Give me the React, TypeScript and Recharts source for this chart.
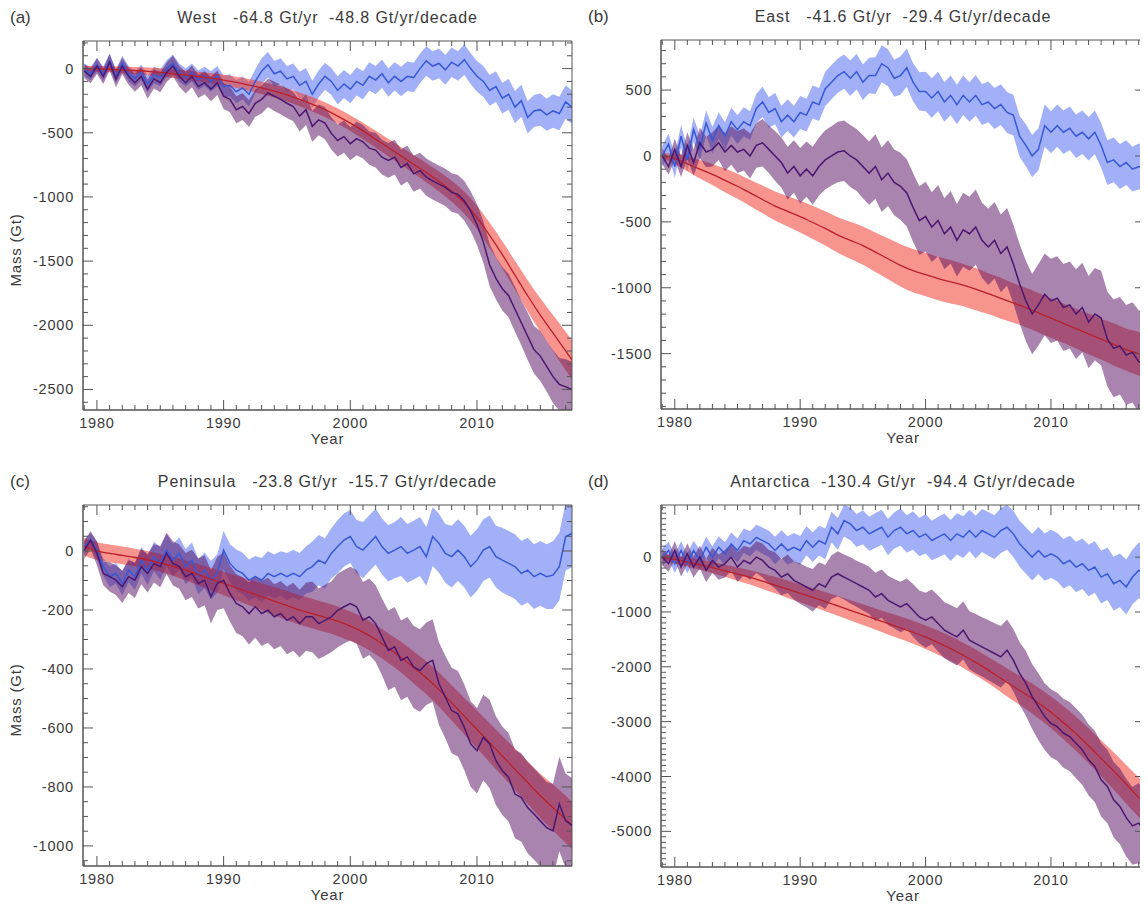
import { ComposedChart, Line, Area, XAxis, YAxis, ReferenceArea } from 'recharts'

// half-year sample times 1979.0 .. 2018.0 (the last point only runs past the frame edge)
const START = 1979
const halfYears: number[] = []
for (let i = 0; i <= 78; i++) halfYears.push(START + i / 2)

const yearTicks: number[] = []
for (let y = 1979; y <= 2017; y++) yearTicks.push(y)
const yearLabels = [1980, 1990, 2000, 2010]

// ---- (a) West ----
const westBlue = [
  -10, -40, 30, -40, 60, -60, 40, -40, -80, -30, -120, -50, -70, 0, 40, -30, -70, -30, -90, -60,
  -100, -60, -140, -130, -180, -150, -200, -100, -20, 30, -40, -20, -80, -60, -130, -100, -200, -120, -60, -100,
  -170, -120, -160, -100, -130, -60, -90, -40, -110, -60, -100, -60, -70, 0, 60, 20, 40, -10, 50, 20,
  70, 0, -60, -100, -170, -140, -230, -200, -300, -250, -380, -330, -320, -360, -330, -350, -260, -300, -320,
]
const westPurple = [
  -20, -60, 20, -60, 50, -80, 20, -60, -110, -60, -160, -80, -110, -30, 20, -60, -110, -60, -140, -110,
  -160, -110, -215, -240, -320, -295, -350, -270, -240, -190, -215, -240, -270, -295, -370, -320, -450, -400, -425, -505,
  -560, -530, -585, -545, -570, -620, -635, -690, -715, -690, -770, -740, -820, -795, -845, -875, -900, -925, -965, -980,
  -1030, -1110, -1215, -1350, -1530, -1635, -1715, -1770, -1875, -1980, -2085, -2190, -2240, -2320, -2400, -2460, -2480, -2500, -2530,
]
const westRed = [
  0, -2, -5, -10, -15, -22, -30, -40, -50, -62, -75, -90, -108, -128, -150, -175, -205, -240, -278, -320,
  -370, -425, -485, -550, -615, -680, -745, -810, -880, -955, -1045, -1160, -1300, -1450, -1610, -1770, -1920, -2060, -2200, -2340,
]
const westBlueErr = [
  50, 55, 55, 60, 60, 65, 65, 70, 70, 75, 80, 85, 90, 95, 100, 100, 100, 105, 105, 105,
  110, 110, 110, 110, 110, 115, 115, 115, 115, 115, 120, 120, 120, 120, 125, 125, 125, 130, 130, 130,
]
const westPurpleErr = [
  55, 60, 65, 65, 70, 75, 75, 80, 85, 90, 95, 100, 105, 105, 110, 115, 115, 120, 120, 125,
  125, 130, 130, 135, 135, 140, 140, 145, 145, 150, 155, 160, 165, 170, 175, 185, 195, 205, 215, 220,
]
const westRedErr = [
  20, 22, 24, 26, 28, 30, 32, 34, 36, 38, 40, 42, 44, 46, 48, 50, 52, 54, 56, 58,
  60, 62, 64, 66, 68, 70, 72, 75, 78, 82, 86, 92, 98, 105, 112, 120, 130, 140, 150, 155,
]

// ---- (b) East ----
const eastBlue = [
  0, 90, -80, 150, -30, 200, 60, 250, 120, 230, 150, 260, 200, 260, 230, 360, 410, 330, 360, 260,
  310, 260, 330, 310, 410, 390, 510, 560, 610, 640, 590, 640, 560, 610, 610, 700, 670, 590, 610, 670,
  560, 490, 490, 440, 490, 410, 460, 390, 460, 410, 460, 390, 410, 360, 390, 330, 310, 150, 80, 0,
  50, 230, 180, 230, 180, 210, 150, 180, 130, 180, 80, -50, -30, -80, -50, -100, -80, -100, -120,
]
const eastPurple = [
  0, -80, 50, -80, 80, -50, 100, 30, 50, 100, 30, 80, 30, 50, 0, 80, 100, 50, 0, -50,
  -130, -80, -150, -100, -150, -80, -30, 0, 30, 40, 0, -30, -80, -130, -80, -180, -130, -200, -230, -280,
  -390, -490, -460, -540, -490, -590, -540, -640, -560, -590, -540, -640, -690, -640, -740, -690, -820, -970, -1100, -1200,
  -1130, -1050, -1100, -1080, -1150, -1130, -1200, -1150, -1260, -1200, -1230, -1390, -1460, -1440, -1510, -1490, -1560, -1580, -1600,
]
const eastRed = [
  0, -20, -60, -100, -140, -185, -230, -280, -330, -380, -420, -460, -505, -550, -600, -640, -680, -730, -780, -830,
  -870, -900, -930, -955, -980, -1010, -1045, -1080, -1115, -1150, -1190, -1230, -1270, -1310, -1350, -1390, -1430, -1470, -1500, -1530,
]
const eastBlueErr = [
  80, 85, 90, 95, 100, 105, 110, 110, 115, 120, 120, 125, 125, 130, 130, 135, 135, 140, 140, 145,
  145, 150, 150, 150, 150, 155, 155, 155, 155, 160, 160, 160, 165, 165, 165, 170, 170, 170, 175, 175,
]
const eastPurpleErr = [
  60, 80, 100, 115, 130, 145, 160, 170, 180, 190, 200, 210, 220, 225, 230, 235, 240, 245, 250, 255,
  260, 265, 270, 275, 280, 285, 290, 295, 300, 305, 310, 320, 330, 340, 350, 360, 370, 380, 390, 390,
]
const eastRedErr = [
  20, 40, 55, 70, 80, 90, 95, 100, 105, 110, 115, 120, 125, 130, 135, 140, 145, 150, 155, 160,
  165, 165, 165, 165, 160, 160, 155, 155, 150, 150, 150, 150, 150, 150, 155, 155, 160, 160, 165, 165,
]

// ---- (c) Peninsula ----
const peninsulaBlue = [
  15, 37, 3, -53, -87, -76, -110, -65, -87, -31, -65, -19, -42, 3, -31, -8, -53, -31, -87, -65,
  -99, -76, 3, -42, -65, -76, -99, -87, -99, -76, -87, -76, -87, -76, -87, -65, -53, -31, -42, -8,
  15, 37, 49, 15, 3, 26, 49, 15, -8, 3, 15, -8, 3, 15, -19, 49, 26, -8, -19, 3,
  -19, -53, -31, 3, 15, -19, -31, -42, -53, -76, -65, -87, -76, -87, -82, -53, 49, 60, 40,
]
const peninsulaPurple = [
  3, 37, -8, -76, -87, -99, -121, -87, -99, -53, -76, -42, -53, -8, -42, -53, -87, -76, -110, -99,
  -155, -110, -99, -144, -178, -189, -212, -189, -212, -201, -223, -212, -235, -223, -246, -223, -223, -246, -235, -223,
  -201, -189, -178, -189, -235, -223, -246, -291, -337, -325, -371, -359, -393, -405, -382, -371, -450, -495, -541, -552,
  -598, -654, -677, -632, -654, -711, -745, -768, -824, -836, -870, -892, -915, -938, -949, -858, -915, -930, -950,
]
const peninsulaRed = [
  15, 0, -8, -15, -22, -30, -40, -52, -65, -80, -95, -110, -125, -140, -155, -170, -185, -200, -212, -225,
  -238, -255, -275, -300, -330, -360, -395, -430, -470, -515, -560, -605, -650, -695, -740, -785, -830, -870, -910, -950,
]
const peninsulaBlueErr = [
  25, 30, 35, 40, 45, 50, 55, 55, 60, 60, 65, 65, 70, 70, 75, 75, 80, 80, 85, 85,
  90, 90, 95, 95, 95, 100, 100, 100, 100, 105, 105, 105, 105, 110, 110, 110, 110, 115, 115, 115,
]
const peninsulaPurpleErr = [
  30, 40, 50, 55, 60, 65, 70, 75, 80, 85, 90, 95, 100, 105, 110, 110, 115, 115, 120, 120,
  125, 125, 130, 130, 135, 135, 140, 140, 140, 145, 145, 145, 150, 150, 150, 155, 155, 160, 160, 160,
]
const peninsulaRedErr = [
  30, 30, 30, 30, 30, 30, 30, 32, 34, 36, 38, 40, 42, 44, 46, 48, 50, 50, 50, 50,
  50, 50, 50, 50, 50, 52, 54, 56, 58, 60, 62, 64, 66, 68, 70, 72, 75, 78, 80, 80,
]

// ---- (d) Antarctica ----
const antarcticaBlue = [
  0, 120, -120, 120, -120, 120, -60, 180, 0, 180, 60, 240, 120, 300, 240, 360, 300, 240, 120, 240,
  120, 180, 120, 300, 180, 300, 240, 545, 424, 666, 606, 485, 545, 424, 485, 545, 364, 485, 545, 424,
  485, 364, 424, 303, 364, 424, 303, 424, 364, 485, 364, 485, 424, 364, 485, 545, 424, 242, 121, 0,
  121, 0, 61, 0, -121, -61, -182, -121, -242, -182, -364, -303, -485, -424, -545, -364, -242, -300, -350,
]
const antarcticaPurple = [
  0, -121, 121, -182, 61, -182, 0, -242, -61, -182, -121, 0, -182, -61, -121, 0, -61, -182, -242, -364,
  -303, -424, -485, -545, -606, -485, -545, -364, -303, -364, -424, -485, -545, -606, -727, -666, -788, -848, -909, -848,
  -970, -1091, -1151, -1091, -1212, -1333, -1394, -1454, -1333, -1515, -1576, -1636, -1697, -1757, -1818, -1697, -1879, -2121, -2303, -2545,
  -2727, -2909, -3030, -3091, -3212, -3273, -3394, -3515, -3697, -3818, -4060, -4181, -4424, -4545, -4750, -4900, -4850, -5000, -5100,
]
const antarcticaRed = [
  0, -40, -90, -140, -190, -250, -310, -370, -440, -510, -585, -660, -735, -810, -890, -970, -1050, -1130, -1210, -1290,
  -1370, -1460, -1560, -1670, -1790, -1920, -2060, -2210, -2360, -2500, -2660, -2830, -3020, -3220, -3440, -3670, -3900, -4140, -4380, -4620,
]
const antarcticaBlueErr = [
  160, 170, 180, 190, 200, 210, 220, 230, 240, 250, 260, 265, 270, 280, 290, 300, 310, 320, 330, 340,
  350, 360, 370, 375, 380, 390, 400, 410, 420, 425, 430, 440, 450, 460, 470, 480, 490, 500, 510, 510,
]
const antarcticaPurpleErr = [
  150, 170, 190, 210, 230, 250, 270, 290, 310, 330, 350, 370, 390, 400, 410, 420, 430, 440, 450, 460,
  480, 500, 510, 520, 530, 540, 550, 560, 570, 590, 610, 620, 630, 640, 650, 670, 690, 710, 730, 730,
]
const antarcticaRedErr = [
  60, 70, 80, 90, 100, 110, 120, 130, 140, 150, 160, 165, 170, 175, 180, 185, 190, 195, 200, 205,
  210, 215, 220, 225, 230, 235, 240, 250, 260, 270, 280, 290, 300, 310, 320, 330, 340, 350, 360, 360,
]

const FONT = "'Liberation Sans', Arial, Helvetica, sans-serif"
const INK = '#3a3a3a'
const AXIS = '#555'

function range(a: number, b: number, step: number) {
  const out: number[] = []
  for (let v = a; v <= b + 1e-9; v += step) out.push(v)
  return out
}

type PanelProps = {
  tag: string
  title: string
  left: number
  top: number
  w: number
  h: number
  domain: [number, number]
  majors: number[]
  minorStep: number
  yLabelCenter?: number
  blue: number[]
  blueErr: number[]
  purple: number[]
  purpleErr: number[]
  red: number[]
  redErr: number[]
}

function buildRows(p: PanelProps) {
  return halfYears.map((t, i) => {
    const k = Math.floor(t - START)
    const whole = Number.isInteger(t)
    return {
      t,
      blue: p.blue[i],
      blueBand: [p.blue[i] - p.blueErr[k], p.blue[i] + p.blueErr[k]],
      purple: p.purple[i],
      purpleBand: [p.purple[i] - p.purpleErr[k], p.purple[i] + p.purpleErr[k]],
      red: whole ? p.red[k] : null,
      redBand: whole ? [p.red[k] - p.redErr[k], p.red[k] + p.redErr[k]] : null,
    }
  })
}

const YW = 70
const MT = 6
const XH = 40
const X_DOMAIN: [number, number] = [1978.9, 2017.5]

function Panel(p: PanelProps) {
  const rows = buildRows(p)
  const yTicks = range(Math.ceil(p.domain[0] / p.minorStep) * p.minorStep, p.domain[1], p.minorStep)
  const isMajorY = (v: number) => p.majors.includes(v)
  const chartLeft = p.left - 8 - YW
  const chartTop = p.top - 8 - MT

  // bottom ticks also draw the matching tick on the top edge of the frame
  const bottomTick = (t: any) => {
    const v = t.payload.value
    const major = yearLabels.includes(v)
    const len = major ? 10 : 5
    return (
      <g>
        <line x1={t.x} x2={t.x} y1={t.y} y2={t.y - len} stroke={AXIS} />
        <line x1={t.x} x2={t.x} y1={t.y - p.h} y2={t.y - p.h + len} stroke={AXIS} />
        {major && (
          <text x={t.x} y={t.y + 18} textAnchor="middle" fontSize={14.5} letterSpacing={0.8} fill={INK} fontFamily={FONT}>
            {v}
          </text>
        )}
      </g>
    )
  }
  // left ticks also draw the matching tick on the right edge
  const leftTick = (t: any) => {
    const v = t.payload.value
    const major = isMajorY(v)
    const len = major ? 10 : 5
    return (
      <g>
        <line x1={t.x} x2={t.x + len} y1={t.y} y2={t.y} stroke={AXIS} />
        <line x1={t.x + p.w} x2={t.x + p.w - len} y1={t.y} y2={t.y} stroke={AXIS} />
        {major && (
          <text x={t.x - 9} y={t.y + 5} textAnchor="end" fontSize={14.5} letterSpacing={0.8} fill={INK} fontFamily={FONT}>
            {v}
          </text>
        )}
      </g>
    )
  }

  return (
    <>
      <div style={{ position: 'absolute', left: p.left - 8 - 78 + 5, top: p.top - 8 - 33, fontSize: 17, color: INK, fontFamily: FONT }}>
        {p.tag}
      </div>
      <div
        style={{
          position: 'absolute',
          left: p.left - 8,
          width: p.w,
          top: p.top - 8 - 32,
          textAlign: 'center',
          fontSize: 16,
          letterSpacing: 0.9,
          whiteSpace: 'pre',
          color: INK,
          fontFamily: FONT,
        }}
      >
        {p.title}
      </div>
      <div
        style={{
          position: 'absolute',
          left: p.left - 8,
          width: p.w,
          top: p.top - 8 + p.h + 20,
          textAlign: 'center',
          fontSize: 15,
          letterSpacing: 0.8,
          lineHeight: '17px',
          color: INK,
          fontFamily: FONT,
        }}
      >
        Year
      </div>
      {p.yLabelCenter !== undefined && (
        <div
          style={{
            position: 'absolute',
            left: 16 - 8 - 50,
            width: 100,
            top: p.yLabelCenter - 8 - 9,
            textAlign: 'center',
            fontSize: 15,
            letterSpacing: 0.8,
            lineHeight: '18px',
            transform: 'rotate(-90deg)',
            color: INK,
            fontFamily: FONT,
          }}
        >
          Mass (Gt)
        </div>
      )}
      <div style={{ position: 'absolute', left: chartLeft, top: chartTop }}>
        <ComposedChart width={YW + p.w + 2} height={MT + p.h + XH} data={rows} margin={{ top: MT, right: 2, bottom: 0, left: 0 }}>
          <XAxis
            dataKey="t"
            type="number"
            domain={X_DOMAIN}
            allowDataOverflow
            ticks={yearTicks}
            interval={0}
            tick={bottomTick}
            tickLine={false}
            tickSize={0}
            tickMargin={0}
            height={XH}
            axisLine={{ stroke: AXIS }}
          />
          <YAxis
            type="number"
            domain={p.domain}
            allowDataOverflow
            ticks={yTicks}
            interval={0}
            tick={leftTick}
            tickLine={false}
            tickSize={0}
            tickMargin={0}
            width={YW}
            axisLine={{ stroke: AXIS }}
          />
          <Area dataKey="blueBand" type="linear" stroke="none" fill="#4664f0" fillOpacity={0.5} isAnimationActive={false} dot={false} activeDot={false} />
          <Area dataKey="redBand" type="monotone" stroke="none" fill="#f03c30" fillOpacity={0.55} connectNulls isAnimationActive={false} dot={false} activeDot={false} />
          <Area dataKey="purpleBand" type="linear" stroke="none" fill="#5a1464" fillOpacity={0.52} isAnimationActive={false} dot={false} activeDot={false} />
          <Line dataKey="blue" type="linear" stroke="#3858d6" strokeWidth={1.5} dot={false} activeDot={false} isAnimationActive={false} />
          <Line dataKey="red" type="monotone" stroke="#b8202a" strokeWidth={1.3} dot={false} activeDot={false} connectNulls isAnimationActive={false} />
          <Line dataKey="purple" type="linear" stroke="#4a1870" strokeWidth={1.5} dot={false} activeDot={false} isAnimationActive={false} />
          {/* plot frame (top and right edges) */}
          <ReferenceArea x1={X_DOMAIN[0]} x2={X_DOMAIN[1]} y1={p.domain[0]} y2={p.domain[1]} fill="none" stroke={AXIS} ifOverflow="visible" />
        </ComposedChart>
      </div>
    </>
  )
}

export default function App() {
  return (
    <div style={{ position: 'relative', width: 1140, height: 895, background: '#fff' }}>
      <Panel
        tag="(a)"
        title={'West   -64.8 Gt/yr  -48.8 Gt/yr/decade'}
        left={83}
        top={41}
        w={489}
        h={369}
        domain={[-2660, 215]}
        majors={[0, -500, -1000, -1500, -2000, -2500]}
        minorStep={100}
        yLabelCenter={250}
        blue={westBlue}
        blueErr={westBlueErr}
        purple={westPurple}
        purpleErr={westPurpleErr}
        red={westRed}
        redErr={westRedErr}
      />
      <Panel
        tag="(b)"
        title={'East   -41.6 Gt/yr  -29.4 Gt/yr/decade'}
        left={661}
        top={40}
        w={484}
        h={369}
        domain={[-1920, 880]}
        majors={[500, 0, -500, -1000, -1500]}
        minorStep={100}
        blue={eastBlue}
        blueErr={eastBlueErr}
        purple={eastPurple}
        purpleErr={eastPurpleErr}
        red={eastRed}
        redErr={eastRedErr}
      />
      <Panel
        tag="(c)"
        title={'Peninsula   -23.8 Gt/yr  -15.7 Gt/yr/decade'}
        left={83}
        top={505}
        w={489}
        h={361}
        domain={[-1068, 156]}
        majors={[0, -200, -400, -600, -800, -1000]}
        minorStep={50}
        yLabelCenter={700}
        blue={peninsulaBlue}
        blueErr={peninsulaBlueErr}
        purple={peninsulaPurple}
        purpleErr={peninsulaPurpleErr}
        red={peninsulaRed}
        redErr={peninsulaRedErr}
      />
      <Panel
        tag="(d)"
        title={'Antarctica  -130.4 Gt/yr  -94.4 Gt/yr/decade'}
        left={661}
        top={505}
        w={484}
        h={362}
        domain={[-5650, 950]}
        majors={[0, -1000, -2000, -3000, -4000, -5000]}
        minorStep={100}
        blue={antarcticaBlue}
        blueErr={antarcticaBlueErr}
        purple={antarcticaPurple}
        purpleErr={antarcticaPurpleErr}
        red={antarcticaRed}
        redErr={antarcticaRedErr}
      />
    </div>
  )
}
